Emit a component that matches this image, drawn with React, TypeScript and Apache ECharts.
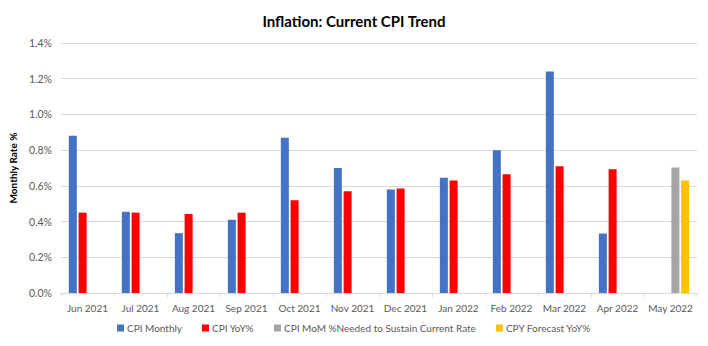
import React, { useEffect, useRef } from "react";
import * as echarts from "echarts";

const categories = [
  "Jun 2021", "Jul 2021", "Aug 2021", "Sep 2021", "Oct 2021", "Nov 2021",
  "Dec 2021", "Jan 2022", "Feb 2022", "Mar 2022", "Apr 2022", "May 2022",
];
const cpiMonthly = [0.88, 0.455, 0.335, 0.41, 0.87, 0.70, 0.58, 0.645, 0.80, 1.24, 0.333, null];
const cpiYoY = [0.45, 0.45, 0.443, 0.45, 0.52, 0.57, 0.585, 0.63, 0.665, 0.71, 0.693, null];
const cpiNeeded = [null, null, null, null, null, null, null, null, null, null, null, 0.703];
const cpyForecast = [null, null, null, null, null, null, null, null, null, null, null, 0.63];
const yTicks = { min: 0, max: 1.4, interval: 0.2 };

const FONT = "Lato, 'Liberation Sans', sans-serif";

export default function App() {
  const ref = useRef<HTMLDivElement>(null);
  useEffect(() => {
    if (!ref.current) return;
    const chart = echarts.init(ref.current, null, { renderer: "svg" });
    const mk = (name: string, data: (number | null)[], color: string) => ({
      name,
      type: "bar",
      data,
      barWidth: 8,
      barGap: "22%",
      itemStyle: { color },
    });
    chart.setOption({
      animation: false,
      textStyle: { fontFamily: FONT },
      title: {
        text: "Inflation: Current CPI Trend",
        left: "center",
        top: 8,
        textStyle: { fontSize: 15, fontWeight: "bold", color: "#000", fontFamily: FONT },
      },
      grid: { left: 55, right: 11, top: 43, bottom: 53 },
      legend: {
        bottom: 8,
        left: "center",
        itemWidth: 7,
        itemHeight: 7,
        itemGap: 20,
        icon: "rect",
        textStyle: { fontSize: 10, color: "#595959", fontFamily: FONT, padding: [0, 0, 0, -2] },
        data: ["CPI Monthly", "CPI YoY%", "CPI MoM %Needed to Sustain Current Rate", "CPY Forecast YoY%"],
      },
      xAxis: {
        type: "category",
        data: categories,
        axisLine: { lineStyle: { color: "#d9d9d9" } },
        axisTick: { show: true, length: 4, lineStyle: { color: "#d9d9d9" } },
        axisLabel: { fontSize: 10, color: "#595959", margin: 10, interval: 0 },
      },
      yAxis: {
        type: "value",
        min: yTicks.min,
        max: yTicks.max,
        interval: yTicks.interval,
        name: "Monthly Rate %",
        nameLocation: "middle",
        nameGap: 40,
        nameTextStyle: { fontSize: 10, fontWeight: "bold", color: "#000" },
        axisLabel: {
          fontSize: 10.5,
          color: "#595959",
          margin: 9,
          formatter: (v: number) => v.toFixed(1) + "%",
        },
        splitLine: { lineStyle: { color: "#d9d9d9" } },
      },
      series: [
        mk("CPI Monthly", cpiMonthly, "#4472C4"),
        mk("CPI YoY%", cpiYoY, "#FF0000"),
        mk("CPI MoM %Needed to Sustain Current Rate", cpiNeeded, "#A5A5A5"),
        mk("CPY Forecast YoY%", cpyForecast, "#FFC000"),
      ],
    });
    return () => chart.dispose();
  }, []);
  return <div ref={ref} style={{ width: 708, height: 346, position: "absolute", left: 0, top: 0 }} />;
}
